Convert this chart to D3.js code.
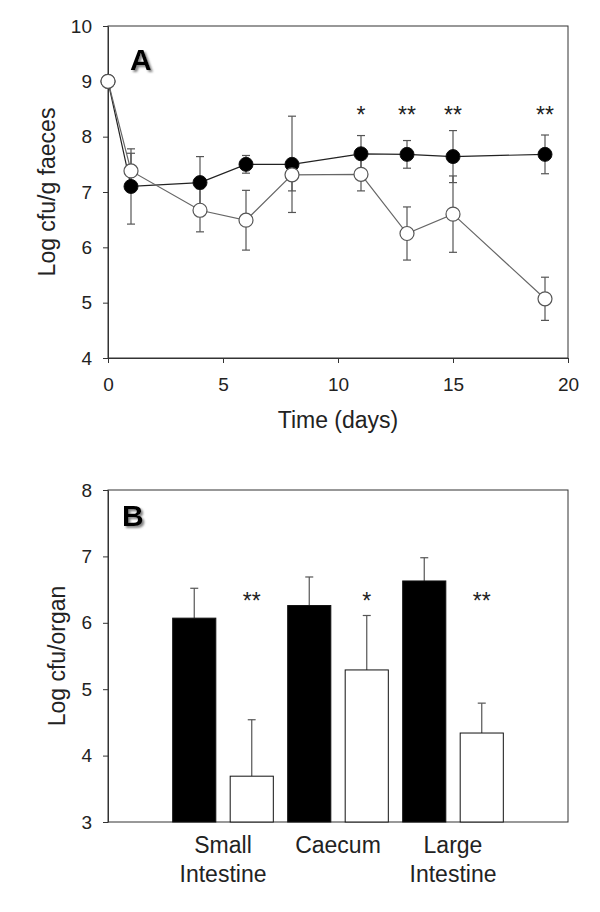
<!DOCTYPE html>
<html>
<head>
<meta charset="utf-8">
<script src="https://cdn.jsdelivr.net/npm/d3@7"></script>
<style>
  html, body { margin: 0; padding: 0; background: #fff; }
  svg { display: block; font-family: "Liberation Sans", Arial, sans-serif; }
</style>
</head>
<body>
<svg id="chart" width="600" height="912"></svg>
<script>
// ---------- Panel A data ----------
const days = [0, 1, 4, 6, 8, 11, 13, 15, 19];
const controlMean = [9, 7.10, 7.17, 7.50, 7.50, 7.69, 7.68, 7.64, 7.68];
const controlErr  = [0, 0.68, 0.47, 0.16, 0.87, 0.33, 0.25, 0.47, 0.35];
const treatedMean = [9, 7.38, 6.67, 6.49, 7.31, 7.32, 6.25, 6.60, 5.07];
const treatedErr  = [0, 0.32, 0.39, 0.54, 0.29, 0.30, 0.48, 0.69, 0.39];
const sigDays  = [11, 13, 15, 19];
const sigMarks = ["*", "**", "**", "**"];
const xTicksA = [0, 5, 10, 15, 20];
const yTicksA = [4, 5, 6, 7, 8, 9, 10];

// ---------- Panel B data ----------
const organs = ["Small Intestine", "Caecum", "Large Intestine"];
const organLabelLines = [["Small", "Intestine"], ["Caecum"], ["Large", "Intestine"]];
const controlOrgan    = [6.07, 6.26, 6.63];
const controlOrganErr = [0.45, 0.43, 0.35];
const treatedOrgan    = [3.69, 5.29, 4.34];
const treatedOrganErr = [0.85, 0.82, 0.45];
const organSig = ["**", "*", "**"];
const yTicksB = [3, 4, 5, 6, 7, 8];

const svg = d3.select("#chart");
const axisColor = "#333";
const errColor = "#555";

const defs = svg.append("defs");
const f = defs.append("filter").attr("id", "shadow").attr("x", "-30%").attr("y", "-30%").attr("width", "160%").attr("height", "160%");
f.append("feDropShadow").attr("dx", 2).attr("dy", 2).attr("stdDeviation", 1.2).attr("flood-color", "#777").attr("flood-opacity", 0.9);

// ================= Panel A =================
const A = { left: 108, right: 568, top: 26, bottom: 358 };
const xA = d3.scaleLinear().domain([0, 20]).range([A.left, A.right]);
const yA = d3.scaleLinear().domain([4, 10]).range([A.bottom, A.top]);
const gA = svg.append("g");

// frame
gA.append("rect").attr("x", A.left).attr("y", A.top)
  .attr("width", A.right - A.left).attr("height", A.bottom - A.top)
  .attr("fill", "none").attr("stroke", axisColor).attr("stroke-width", 1);

const axLA = gA.append("g").attr("transform", `translate(${A.left},0)`)
  .call(d3.axisLeft(yA).tickValues(yTicksA).tickSize(5).tickSizeOuter(0).tickPadding(11).tickFormat(d3.format("d")));
const axBA = gA.append("g").attr("transform", `translate(0,${A.bottom})`)
  .call(d3.axisBottom(xA).tickValues(xTicksA).tickSize(5).tickSizeOuter(0).tickPadding(15).tickFormat(d3.format("d")));
[axLA, axBA].forEach(ax => {
  ax.select(".domain").attr("stroke", axisColor);
  ax.selectAll(".tick line").attr("stroke", axisColor);
  ax.selectAll(".tick text").attr("fill", "#222").style("font-size", "19px").style("font-family", "'Liberation Sans', Arial, sans-serif");
});

const ptsC = days.map((d, i) => ({ x: d, y: controlMean[i], e: controlErr[i] }));
const ptsT = days.map((d, i) => ({ x: d, y: treatedMean[i], e: treatedErr[i] }));
const line = d3.line().x(d => xA(d.x)).y(d => yA(d.y));

gA.append("path").datum(ptsC).attr("d", line).attr("fill", "none").attr("stroke", "#222").attr("stroke-width", 1.2);
gA.append("path").datum(ptsT).attr("d", line).attr("fill", "none").attr("stroke", "#666").attr("stroke-width", 1.2);

function errBars(g, pts, cap) {
  const eg = g.append("g").attr("stroke", errColor).attr("stroke-width", 1.2);
  pts.filter(p => p.e > 0).forEach(p => {
    const x = xA(p.x), y1 = yA(p.y - p.e), y2 = yA(p.y + p.e);
    eg.append("line").attr("x1", x).attr("x2", x).attr("y1", y1).attr("y2", y2);
    eg.append("line").attr("x1", x - cap).attr("x2", x + cap).attr("y1", y1).attr("y2", y1);
    eg.append("line").attr("x1", x - cap).attr("x2", x + cap).attr("y1", y2).attr("y2", y2);
  });
}
errBars(gA, ptsC, 4);
errBars(gA, ptsT, 4);

gA.append("g").selectAll("circle").data(ptsC).join("circle")
  .attr("cx", d => xA(d.x)).attr("cy", d => yA(d.y)).attr("r", 7)
  .attr("fill", "#000").attr("stroke", "#111").attr("stroke-width", 1);
gA.append("g").selectAll("circle").data(ptsT).join("circle")
  .attr("cx", d => xA(d.x)).attr("cy", d => yA(d.y)).attr("r", 7)
  .attr("fill", "#fff").attr("stroke", "#555").attr("stroke-width", 1.2);

gA.append("g").selectAll("text").data(sigDays).join("text")
  .attr("x", d => xA(d)).attr("y", A.top + 97)
  .attr("text-anchor", "middle").style("font-size", "23px").attr("fill", "#222")
  .text((d, i) => sigMarks[i]);

gA.append("text").attr("x", A.left + 22).attr("y", A.top + 44)
  .style("font-size", "30px").style("font-weight", "bold").attr("fill", "#000")
  .attr("filter", "url(#shadow)").text("A");

gA.append("text").attr("transform", `translate(55,${(A.top + A.bottom) / 2}) rotate(-90)`)
  .attr("text-anchor", "middle").style("font-size", "23px").attr("fill", "#222")
  .text("Log cfu/g faeces");
gA.append("text").attr("x", (A.left + A.right) / 2).attr("y", 428)
  .attr("text-anchor", "middle").style("font-size", "23px").attr("fill", "#222")
  .text("Time (days)");

// ================= Panel B =================
const B = { left: 108, right: 568, top: 490, bottom: 822 };
const yB = d3.scaleLinear().domain([3, 8]).range([B.bottom, B.top]);
const xB = d3.scaleBand().domain(organs).range([B.left, B.right]).paddingInner(0).paddingOuter(0.5);
const series = ["control", "treated"];
const xSub = d3.scaleBand().domain(series).range([0, xB.bandwidth()]).paddingInner(0.25).paddingOuter(0.125);
const gB = svg.append("g");

gB.append("rect").attr("x", B.left).attr("y", B.top)
  .attr("width", B.right - B.left).attr("height", B.bottom - B.top)
  .attr("fill", "none").attr("stroke", axisColor).attr("stroke-width", 1);

const axLB = gB.append("g").attr("transform", `translate(${B.left},0)`)
  .call(d3.axisLeft(yB).tickValues(yTicksB).tickSize(5).tickSizeOuter(0).tickPadding(11).tickFormat(d3.format("d")));
axLB.select(".domain").attr("stroke", axisColor);
axLB.selectAll(".tick line").attr("stroke", axisColor);
axLB.selectAll(".tick text").attr("fill", "#222").style("font-size", "19px").style("font-family", "'Liberation Sans', Arial, sans-serif");

const barData = [];
organs.forEach((o, i) => {
  barData.push({ organ: o, s: "control", v: controlOrgan[i], e: controlOrganErr[i] });
  barData.push({ organ: o, s: "treated", v: treatedOrgan[i], e: treatedOrganErr[i] });
});

// error bars (up only) drawn behind bars
const ebB = gB.append("g").attr("stroke", errColor).attr("stroke-width", 1.2);
barData.forEach(d => {
  const cx = xB(d.organ) + xSub(d.s) + xSub.bandwidth() / 2;
  const y0 = yB(d.v), y1 = yB(d.v + d.e);
  ebB.append("line").attr("x1", cx).attr("x2", cx).attr("y1", y0).attr("y2", y1);
  ebB.append("line").attr("x1", cx - 4).attr("x2", cx + 4).attr("y1", y1).attr("y2", y1);
});

gB.append("g").selectAll("rect").data(barData).join("rect")
  .attr("x", d => xB(d.organ) + xSub(d.s))
  .attr("width", xSub.bandwidth())
  .attr("y", d => yB(d.v))
  .attr("height", d => yB(3) - yB(d.v))
  .attr("fill", d => d.s === "control" ? "#000" : "#fff")
  .attr("stroke", "#111").attr("stroke-width", 1);

gB.append("g").selectAll("text").data(organs).join("text")
  .attr("x", d => xB(d) + xSub("treated") + xSub.bandwidth() / 2)
  .attr("y", B.top + 119)
  .attr("text-anchor", "middle").style("font-size", "23px").attr("fill", "#222")
  .text((d, i) => organSig[i]);

const lab = gB.append("g").selectAll("text").data(organs).join("text")
  .attr("text-anchor", "middle").style("font-size", "23px").attr("fill", "#222");
lab.each(function(d, i) {
  const t = d3.select(this);
  organLabelLines[i].forEach((ln, k) => {
    t.append("tspan").attr("x", xB(d) + xB.bandwidth() / 2).attr("y", 853 + k * 29).text(ln);
  });
});

gB.append("text").attr("x", B.left + 14).attr("y", B.top + 36)
  .style("font-size", "30px").style("font-weight", "bold").attr("fill", "#000")
  .attr("filter", "url(#shadow)").text("B");

gB.append("text").attr("transform", `translate(65,${(B.top + B.bottom) / 2}) rotate(-90)`)
  .attr("text-anchor", "middle").style("font-size", "23px").attr("fill", "#222")
  .text("Log cfu/organ");
</script>
</body>
</html>
